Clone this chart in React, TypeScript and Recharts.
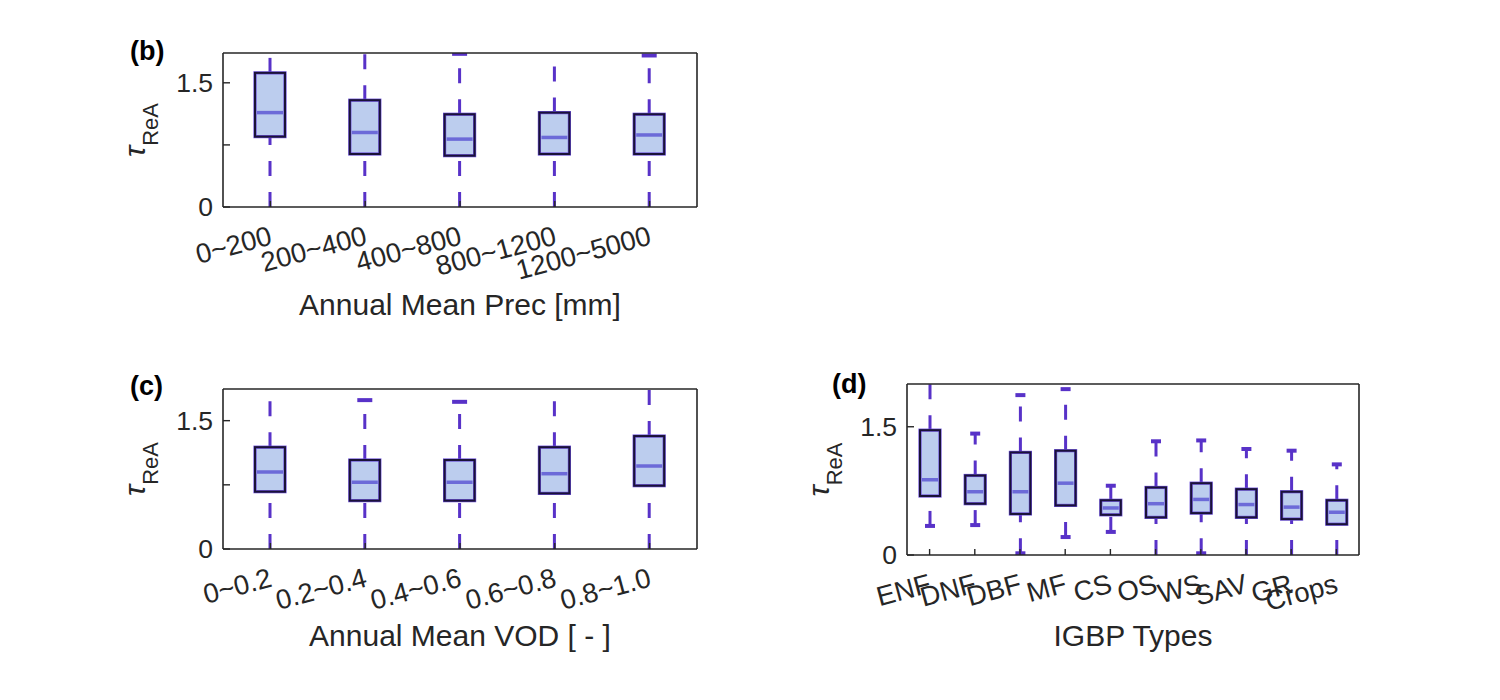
import { ComposedChart, Bar, XAxis, YAxis } from 'recharts';

// (b) annual mean precipitation
const precCats = ['0~200', '200~400', '400~800', '800~1200', '1200~5000'];
const precLo = [0, 0, 0, 0, 0];
const precQ1 = [0.85, 0.64, 0.62, 0.64, 0.64];
const precMed = [1.14, 0.9, 0.82, 0.84, 0.87];
const precQ3 = [1.62, 1.29, 1.12, 1.14, 1.12];
const precHi = [2.0, 2.0, 1.85, 2.0, 1.83];

// (c) annual mean VOD
const vodCats = ['0~0.2', '0.2~0.4', '0.4~0.6', '0.6~0.8', '0.8~1.0'];
const vodLo = [0, 0, 0, 0, 0];
const vodQ1 = [0.67, 0.565, 0.565, 0.65, 0.74];
const vodMed = [0.9, 0.78, 0.78, 0.88, 0.97];
const vodQ3 = [1.19, 1.04, 1.04, 1.19, 1.32];
const vodHi = [2.0, 1.74, 1.72, 2.0, 2.0];

// (d) IGBP land cover types
const igbpCats = ['ENF', 'DNF', 'DBF', 'MF', 'CS', 'OS', 'WS', 'SAV', 'GR', 'Crops'];
const igbpLo = [0.34, 0.35, 0.02, 0.21, 0.27, 0, 0.02, 0, 0, 0];
const igbpQ1 = [0.69, 0.6, 0.48, 0.58, 0.47, 0.44, 0.49, 0.44, 0.42, 0.36];
const igbpMed = [0.88, 0.74, 0.74, 0.84, 0.55, 0.6, 0.65, 0.59, 0.56, 0.5];
const igbpQ3 = [1.46, 0.93, 1.2, 1.22, 0.64, 0.79, 0.84, 0.77, 0.74, 0.64];
const igbpHi = [2.2, 1.42, 1.87, 1.94, 0.81, 1.33, 1.34, 1.24, 1.22, 1.06];

const ticksBC = [0, 0.75, 1.5];
const ticksD = [0, 1.5];

const FONT = '"Liberation Sans", Arial, Helvetica, sans-serif';
const AXIS = '#262626';
const WHISKER = '#5832c8';

interface Row {
  name: string;
  lo: number;
  q1: number;
  med: number;
  q3: number;
  hi: number;
  base: number;
  iqr: number;
}

function makeRows(cats: string[], lo: number[], q1: number[], med: number[], q3: number[], hi: number[]): Row[] {
  return cats.map((name, i) => ({
    name,
    lo: lo[i],
    q1: q1[i],
    med: med[i],
    q3: q3[i],
    hi: hi[i],
    base: q1[i],
    iqr: q3[i] - q1[i],
  }));
}

function BoxShape(props: any) {
  const { x, y, width, height, ymax } = props;
  const d: Row = props.payload;
  if (!d || !height) return null;
  const ppu = height / (d.q3 - d.q1);
  const py = (v: number) => y + height - (v - d.q1) * ppu;
  const cx = x + width / 2;
  const top = py(ymax);
  const bottom = py(0);
  const hiPx = Math.max(py(d.hi), top);
  const loPx = Math.min(py(d.lo), bottom);
  const capW = width * 0.5;
  return (
    <g>
      {/* upper whisker, dashed from the box upward */}
      <line x1={cx} y1={y} x2={cx} y2={hiPx} stroke={WHISKER} strokeWidth={3} strokeDasharray="15 16" />
      {d.hi <= ymax && (
        <line x1={cx - capW / 2} y1={hiPx} x2={cx + capW / 2} y2={hiPx} stroke={WHISKER} strokeWidth={4} />
      )}
      {/* lower whisker, dashed from its end upward */}
      <line x1={cx} y1={loPx} x2={cx} y2={y + height} stroke={WHISKER} strokeWidth={3} strokeDasharray="15 16" />
      {d.lo > 0 && (
        <line x1={cx - capW / 2} y1={loPx} x2={cx + capW / 2} y2={loPx} stroke={WHISKER} strokeWidth={4} />
      )}
      <rect x={x} y={y} width={width} height={height} fill="#bccdee" stroke="#6a4fd8" strokeWidth={3.2} />
      <rect x={x} y={y} width={width} height={height} fill="none" stroke="#1a1238" strokeWidth={2} />
      <line x1={x + 2} y1={py(d.med)} x2={x + width - 2} y2={py(d.med)} stroke="#6c6ad8" strokeWidth={3.5} />
    </g>
  );
}

function RotTick(props: any) {
  const { x, y, payload } = props;
  return (
    <text
      transform={`translate(${x + 3},${y + 37}) rotate(-15)`}
      textAnchor="end"
      fontSize={27.5}
      fill={AXIS}
      fontFamily={FONT}
    >
      {payload.value}
    </text>
  );
}

interface PanelProps {
  rows: Row[];
  ymax: number;
  ticks: number[];
  w: number;
  h: number;
  plot: { left: number; top: number; right: number; bottom: number };
  barSize: number;
  letter: string;
  letterDx: number;
  letterDy: number;
  title: string;
  titleDy: number;
}

function Panel({ rows, ymax, ticks, w, h, plot, barSize, letter, letterDx, letterDy, title, titleDy }: PanelProps) {
  const yAxisW = 80;
  const xAxisH = 100;
  const margin = {
    left: plot.left - yAxisW,
    right: w - plot.right - 1,
    top: plot.top - 1,
    bottom: h - plot.bottom - xAxisH,
  };
  const axisLine = { stroke: AXIS, strokeWidth: 1.6 };
  const tickLine = { stroke: AXIS, strokeWidth: 1.4 };

  return (
    <ComposedChart width={w} height={h} data={rows} margin={margin} barCategoryGap={0}>
      <XAxis
        dataKey="name"
        type="category"
        height={xAxisH}
        interval={0}
        axisLine={axisLine}
        tickLine={tickLine}
        tickSize={-6}
        tickMargin={6}
        tick={<RotTick />}
        label={(p: any) => {
          const vb = p.viewBox || {};
          return (
            <text
              x={vb.x + vb.width / 2}
              y={vb.y + titleDy}
              textAnchor="middle"
              fontSize={30}
              fill={AXIS}
              fontFamily={FONT}
            >
              {title}
            </text>
          );
        }}
      />
      <XAxis
        xAxisId="top"
        dataKey="name"
        type="category"
        orientation="top"
        height={1}
        interval={0}
        axisLine={axisLine}
        tickLine={tickLine}
        tickSize={-6}
        tick={false}
      />
      <YAxis
        type="number"
        domain={[0, ymax]}
        allowDataOverflow
        ticks={ticks}
        width={yAxisW}
        axisLine={axisLine}
        tickLine={tickLine}
        tickSize={-7}
        tickMargin={17}
        tick={{ fontSize: 26.5, fill: AXIS, fontFamily: FONT }}
        tickFormatter={(v: number) => (v === 0.75 ? '' : String(v))}
        label={(p: any) => {
          const vb = p.viewBox || {};
          const left = vb.x + vb.width;
          const cy = vb.y + vb.height / 2;
          return (
            <g>
              <text
                transform={`translate(${left - 78},${cy}) rotate(-90)`}
                textAnchor="middle"
                fill={AXIS}
                fontFamily={FONT}
              >
                <tspan fontSize={30} fontStyle="italic">τ</tspan>
                <tspan fontSize={22} dy={13}>ReA</tspan>
              </text>
              <text
                x={left + letterDx}
                y={vb.y + letterDy}
                fontSize={27}
                fontWeight="bold"
                fill="#000"
                fontFamily={FONT}
              >
                {letter}
              </text>
            </g>
          );
        }}
      />
      <YAxis
        yAxisId="right"
        orientation="right"
        type="number"
        domain={[0, ymax]}
        allowDataOverflow
        ticks={ticks}
        width={1}
        axisLine={axisLine}
        tickLine={tickLine}
        tickSize={-7}
        tick={false}
      />
      <Bar dataKey="base" stackId="box" fill="none" barSize={barSize} isAnimationActive={false} />
      <Bar
        dataKey="iqr"
        stackId="box"
        barSize={barSize}
        isAnimationActive={false}
        shape={(p: any) => <BoxShape {...p} ymax={ymax} />}
      />
    </ComposedChart>
  );
}

export default function App() {
  const precRows = makeRows(precCats, precLo, precQ1, precMed, precQ3, precHi);
  const vodRows = makeRows(vodCats, vodLo, vodQ1, vodMed, vodQ3, vodHi);
  const igbpRows = makeRows(igbpCats, igbpLo, igbpQ1, igbpMed, igbpQ3, igbpHi);

  return (
    <div
      style={{
        position: 'absolute',
        left: 0,
        top: 0,
        width: 1500,
        height: 700,
        background: '#fff',
        fontFamily: FONT,
      }}
    >
      <div style={{ position: 'absolute', left: 0, top: 0 }}>
        <Panel
          rows={precRows}
          ymax={1.86}
          ticks={ticksBC}
          w={760}
          h={340}
          plot={{ left: 223, top: 53, right: 697, bottom: 207 }}
          barSize={30}
          letter="(b)"
          letterDx={-93}
          letterDy={7}
          title="Annual Mean Prec [mm]"
          titleDy={108}
        />
      </div>
      <div style={{ position: 'absolute', left: 0, top: 340 }}>
        <Panel
          rows={vodRows}
          ymax={1.87}
          ticks={ticksBC}
          w={760}
          h={360}
          plot={{ left: 223, top: 49, right: 697, bottom: 209 }}
          barSize={30}
          letter="(c)"
          letterDx={-93}
          letterDy={6}
          title="Annual Mean VOD [ - ]"
          titleDy={97}
        />
      </div>
      <div style={{ position: 'absolute', left: 760, top: 340 }}>
        <Panel
          rows={igbpRows}
          ymax={2.0}
          ticks={ticksD}
          w={740}
          h={360}
          plot={{ left: 147, top: 44, right: 599, bottom: 215 }}
          barSize={20}
          letter="(d)"
          letterDx={-75}
          letterDy={9}
          title="IGBP Types"
          titleDy={91}
        />
      </div>
    </div>
  );
}
